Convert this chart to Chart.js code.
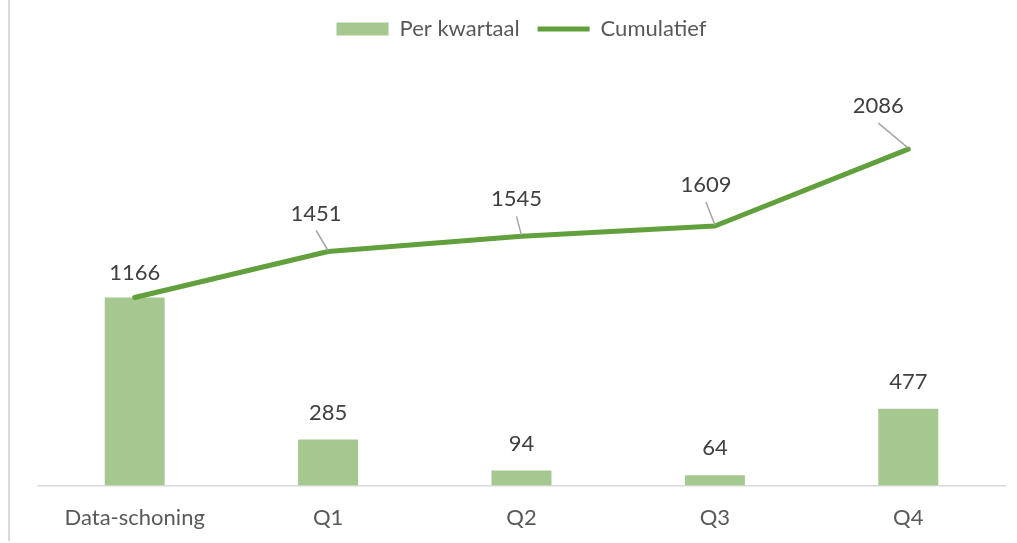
<!DOCTYPE html>
<html>
<head>
<meta charset="utf-8">
<script src="https://cdn.jsdelivr.net/npm/chart.js@4"></script>
<style>
  html, body { margin: 0; padding: 0; background: #fff; }
  #wrap { position: relative; width: 1017px; height: 543px; }
  #edge { position: absolute; left: 8px; top: 0; width: 2px; height: 541px; background: #D9D9D9; }
</style>
</head>
<body>
<div id="wrap">
  <div id="edge"></div>
  <canvas id="chart" width="1017" height="543"></canvas>
</div>
<script>
var categories = ['Data-schoning', 'Q1', 'Q2', 'Q3', 'Q4'];
var perKwartaal = [1166, 285, 94, 64, 477];
var cumulatief = [1166, 1451, 1545, 1609, 2086];

var barColor = '#A5C790';
var lineColor = '#62A03E';
var textColor = '#595959';

// label offsets for the line series (dx, dy from point), Excel-style leader lines
var lineLabelOffsets = [[0, -25], [-12, -38], [-5, -37], [-9, -41], [-30, -43]];

var valueLabels = {
    id: 'valueLabels',
    afterDatasetsDraw: function(chart) {
        var ctx = chart.ctx;
        ctx.save();
        ctx.font = '22px Lato';
        ctx.fillStyle = '#404040';
        ctx.textAlign = 'center';
        ctx.textBaseline = 'middle';

        var bars = chart.getDatasetMeta(0).data;
        bars.forEach(function(el, i) {
            if (i === 0) return; // first bar is covered by the line label
            ctx.fillText(perKwartaal[i], el.x, el.y - 27);
        });

        var pts = chart.getDatasetMeta(1).data;
        pts.forEach(function(el, i) {
            var off = lineLabelOffsets[i];
            var lx = el.x + off[0], ly = el.y + off[1];
            if (Math.abs(off[0]) > 2) {
                ctx.strokeStyle = '#A6A6A6';
                ctx.lineWidth = 1.5;
                ctx.beginPath();
                ctx.moveTo(lx, ly + 17);
                ctx.lineTo(el.x, el.y - 1);
                ctx.stroke();
            }
            ctx.fillText(cumulatief[i], lx, ly);
        });
        ctx.restore();
    }
};

var ctx = document.getElementById('chart').getContext('2d');
var chart = new Chart(ctx, {
    type: 'bar',
    data: {
        labels: categories,
        datasets: [{
            type: 'bar',
            label: 'Per kwartaal',
            data: perKwartaal,
            backgroundColor: barColor,
            borderWidth: 0,
            barPercentage: 0.31,
            categoryPercentage: 1,
            pointStyle: 'rect',
            order: 2
        }, {
            type: 'line',
            label: 'Cumulatief',
            data: cumulatief,
            borderColor: lineColor,
            backgroundColor: lineColor,
            borderWidth: 5,
            borderCapStyle: 'round',
            borderJoinStyle: 'round',
            pointRadius: 0,
            pointStyle: 'line',
            tension: 0,
            order: 1
        }]
    },
    options: {
        responsive: false,
        animation: false,
        layout: { padding: { left: 38, right: 12, top: 0, bottom: 1 } },
        plugins: {
            legend: {
                position: 'top',
                labels: {
                    usePointStyle: true,
                    pointStyleWidth: 52,
                    boxHeight: 13,
                    padding: 18,
                    color: textColor,
                    font: { family: 'Lato', size: 22 },
                    sort: function(a, b) { return a.datasetIndex - b.datasetIndex; }
                }
            },
            tooltip: { enabled: false }
        },
        scales: {
            x: {
                grid: { display: false },
                border: { display: true, color: '#D9D9D9', width: 1.5 },
                ticks: { color: textColor, font: { family: 'Lato', size: 22 }, padding: 11 }
            },
            y: {
                display: false,
                min: 0,
                max: 2700
            }
        }
    },
    plugins: [valueLabels]
});
</script>
</body>
</html>
